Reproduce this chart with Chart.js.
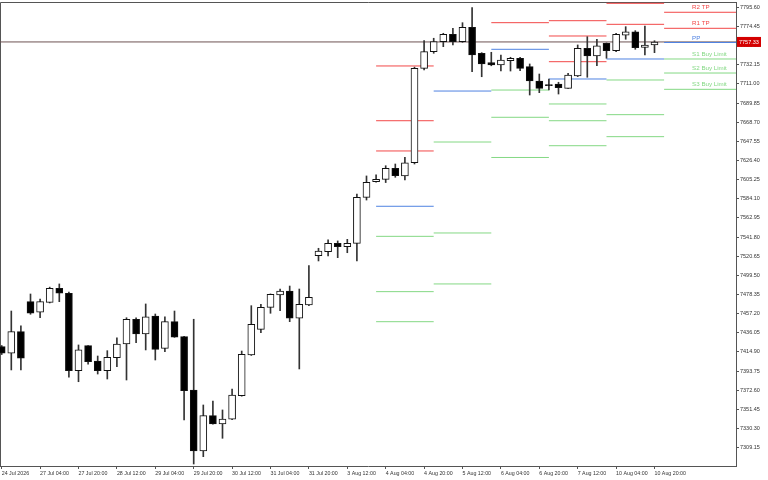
<!DOCTYPE html>
<html><head><meta charset="utf-8">
<script src="https://cdn.jsdelivr.net/npm/chart.js@4.4.1/dist/chart.umd.min.js"></script>
<style>html,body{margin:0;padding:0;background:#fff}canvas{display:block}</style>
</head><body>
<canvas id="c" width="768" height="480"></canvas>
<script>
// ---- candle data (H4 bars, index 0 = 24 Jul 2026 ...) ----
const opens  = [7420.7,7413.4,7437.3,7470.4,7458.7,7469.7,7485.2,7479.7,7394.2,7421.8,7404.9,7394.2,7408.6,7423.7,7451.0,7434.7,7454.6,7418.9,7448.3,7431.8,7372.9,7305.5,7344.5,7335.3,7340.5,7366.6,7411.5,7439.9,7464.2,7477.8,7482.2,7452.1,7466.8,7521.2,7525.6,7534.9,7531.2,7534.9,7585.7,7603.0,7605.6,7617.8,7609.2,7623.9,7728.2,7746.6,7757.6,7765.8,7757.6,7773.5,7744.8,7734.4,7731.9,7736.6,7739.3,7730.0,7714.2,7709.8,7710.9,7706.1,7719.7,7750.3,7741.8,7755.8,7747.7,7764.7,7768.6,7751.4,7754.0];
const highs  = [7422.0,7460.1,7443.6,7478.9,7473.4,7486.5,7490.0,7481.0,7422.6,7422.0,7410.4,7416.3,7430.6,7452.7,7452.7,7467.9,7456.8,7453.8,7460.1,7432.0,7451.0,7356.3,7360.7,7350.8,7374.0,7415.9,7466.0,7467.5,7479.0,7484.4,7487.7,7484.4,7510.2,7529.4,7538.6,7537.5,7539.3,7589.4,7609.3,7610.4,7620.6,7622.5,7629.9,7729.5,7758.7,7761.4,7766.9,7772.4,7778.6,7795.2,7745.5,7745.9,7742.9,7740.4,7740.4,7733.0,7721.9,7716.4,7712.8,7722.7,7754.0,7763.1,7760.3,7756.2,7766.9,7774.2,7769.8,7774.9,7758.7];
const lows   = [7412.0,7395.0,7395.0,7456.5,7452.7,7469.0,7470.4,7386.9,7382.0,7401.3,7390.5,7385.0,7398.6,7383.9,7425.1,7417.1,7406.0,7415.2,7431.0,7339.7,7291.1,7299.2,7335.0,7319.5,7340.0,7366.0,7411.0,7436.2,7457.6,7460.5,7448.3,7396.1,7466.0,7515.4,7520.9,7519.0,7524.5,7515.4,7582.7,7602.3,7602.0,7607.8,7604.9,7622.5,7726.3,7744.8,7752.1,7754.0,7756.9,7724.5,7718.9,7731.0,7725.2,7725.2,7725.6,7698.7,7701.3,7704.2,7699.8,7706.0,7719.0,7718.3,7731.1,7739.3,7746.6,7760.3,7749.2,7742.9,7745.5];
const closes = [7413.4,7437.3,7407.9,7457.6,7470.4,7485.2,7479.7,7394.2,7417.1,7404.1,7394.2,7409.0,7423.7,7451.0,7434.7,7453.8,7417.8,7448.3,7431.1,7372.1,7305.5,7344.5,7335.3,7340.8,7367.3,7412.3,7445.4,7464.2,7478.6,7482.2,7452.1,7467.5,7475.3,7526.4,7534.9,7531.2,7534.9,7585.7,7602.3,7605.6,7617.8,7609.6,7623.9,7728.2,7746.6,7757.6,7765.8,7757.6,7773.5,7742.9,7733.0,7731.9,7737.4,7739.3,7728.2,7714.2,7706.1,7709.0,7706.8,7720.8,7750.3,7741.8,7752.9,7747.7,7765.8,7768.6,7751.0,7754.0,7757.3];
const lastPrice = 7757.33;

// ---- daily pivot segments (bar index where each day starts / ends) ----
const segStart = [39, 45, 51, 57, 63, 69];
const segEnd   = [45, 51, 57, 63, 69, 76.49];
const r3 = [7730.8, null,   null,   7780.8, null,   null];
const r2 = [7670.3, null,   null,   7763.9, 7800.0, 7790.1];
const r1 = [7636.9, null,   7778.6, 7735.5, 7776.8, 7772.4];
const pp = [7575.8, 7703.1, 7749.2, 7716.4, 7738.5, 7756.7];
const s1 = [7542.6, 7646.8, 7704.2, 7688.8, 7715.3, 7738.5];
const s2 = [7481.5, 7546.3, 7674.1, 7670.3, 7677.0, 7723.0];
const s3 = [7448.3, 7490.0, 7629.7, 7642.7, 7652.7, 7705.0];
const levelNames = ['R2 TP', 'R1 TP', 'PP', 'S1 Buy Limit', 'S2 Buy Limit', 'S3 Buy Limit'];

// ---- axis ticks ----
const xTickIdx = [0,4,8,12,16,20,24,28,32,36,40,44,48,52,56,60,64,68];
const xLabels = ['24 Jul 2026','27 Jul 04:00','27 Jul 20:00','28 Jul 12:00','29 Jul 04:00','29 Jul 20:00','30 Jul 12:00','31 Jul 04:00','31 Jul 20:00','3 Aug 12:00','4 Aug 04:00','4 Aug 20:00','5 Aug 12:00','6 Aug 04:00','6 Aug 20:00','7 Aug 12:00','10 Aug 04:00','10 Aug 20:00'];
const yTicks = [7795.60,7774.45,7753.30,7732.15,7711.00,7689.85,7668.70,7647.55,7626.40,7605.25,7584.10,7562.95,7541.80,7520.65,7499.50,7478.35,7457.20,7436.05,7414.90,7393.75,7372.60,7351.45,7330.30,7309.15];

const X_MIN = -0.177, X_MAX = 76.49, Y_MIN = 7288.9, Y_MAX = 7801.45;
const RED = '#f24848', BLUE = '#4f82e2', GREEN = '#84d884', FRAME = '#555';

function segData(levels) {
  const pts = [];
  levels.forEach((v, k) => {
    if (v !== null) { pts.push({x: segStart[k], y: v}, {x: segEnd[k], y: v}); }
    pts.push({x: segEnd[k], y: null});
  });
  return pts;
}
function lineDs(levels, color) {
  return {type: 'line', data: segData(levels), borderColor: color, borderWidth: 1,
          pointRadius: 0, spanGaps: false, order: 3, tension: 0};
}

const bodyData = opens.map((o, i) => ({x: i, y: [o, closes[i]]}));
const wickData = lows.map((l, i) => ({x: i, y: [l, highs[i]]}));
const bodyFill = opens.map((o, i) => closes[i] < o ? '#000' : '#fff');

const extras = {
  id: 'extras',
  beforeDatasetsDraw(chart) {
    const {ctx, chartArea: a} = chart;
    ctx.save();
    ctx.strokeStyle = FRAME; ctx.lineWidth = 1;
    ctx.beginPath();
    ctx.moveTo(0.5, a.bottom); ctx.lineTo(0.5, a.top + 0.5); ctx.lineTo(a.right, a.top + 0.5);
    ctx.stroke();
    ctx.restore();
  },
  afterDraw(chart) {
    const {ctx, chartArea: a, scales: {x, y}} = chart;
    ctx.save();
    const lastLv = [r2[5], r1[5], pp[5], s1[5], s2[5], s3[5]];
    const cols = [RED, RED, BLUE, GREEN, GREEN, GREEN];
    const lx = x.getPixelForValue(segStart[5]) + 28;
    ctx.font = '6.2px "Liberation Sans", Arial, sans-serif';
    ctx.textBaseline = 'bottom'; ctx.textAlign = 'left';
    lastLv.forEach((v, k) => {
      ctx.fillStyle = cols[k];
      ctx.fillText(levelNames[k], lx, y.getPixelForValue(v) - 1.5);
    });
    const py = y.getPixelForValue(lastPrice);
    ctx.fillStyle = '#d40000';
    ctx.fillRect(a.right + 1, py - 5, 24, 10);
    ctx.fillStyle = '#fff';
    ctx.font = '5.5px "Liberation Sans", Arial, sans-serif';
    ctx.textBaseline = 'middle';
    ctx.fillText(lastPrice.toFixed(2), a.right + 3, py + 0.5);
    ctx.restore();
  }
};

new Chart(document.getElementById('c'), {
  type: 'bar',
  data: {
    datasets: [
      {type: 'line', data: [{x: X_MIN, y: lastPrice}, {x: X_MAX, y: lastPrice}], borderColor: '#6e5252',
       borderWidth: 1, pointRadius: 0, order: 4},
      lineDs(r3, RED), lineDs(r2, RED), lineDs(r1, RED), lineDs(pp, BLUE),
      lineDs(s1, GREEN), lineDs(s2, GREEN), lineDs(s3, GREEN),
      {data: wickData, backgroundColor: '#333', borderWidth: 0, barThickness: 1, grouped: false, order: 1},
      {data: bodyData, backgroundColor: bodyFill, borderColor: '#111', borderWidth: 1, borderSkipped: false,
       barThickness: 7, minBarLength: 1, grouped: false, order: 0}
    ]
  },
  options: {
    responsive: false, animation: false, devicePixelRatio: 1, events: [],
    layout: {padding: {top: 2, left: 0, right: 0, bottom: 0}},
    plugins: {legend: {display: false}, tooltip: {enabled: false}},
    scales: {
      x: {
        type: 'linear', min: X_MIN, max: X_MAX, offset: false,
        grid: {offset: false, drawOnChartArea: false, drawTicks: true, tickLength: 3, color: FRAME},
        border: {display: true, color: FRAME},
        afterBuildTicks: s => { s.ticks = xTickIdx.map(v => ({value: v})); },
        afterFit: s => { s.height = 14; s.paddingLeft = 0; s.paddingRight = 0; },
        ticks: {autoSkip: false, maxRotation: 0, align: 'start', padding: 1, color: '#333',
                font: {family: '"Liberation Sans", Arial, sans-serif', size: 5.3},
                callback: (v, i) => xLabels[i]}
      },
      y: {
        type: 'linear', position: 'right', min: Y_MIN, max: Y_MAX, beginAtZero: false,
        grid: {drawOnChartArea: false, drawTicks: true, tickLength: 3, color: FRAME},
        border: {display: true, color: FRAME},
        afterBuildTicks: s => { s.ticks = yTicks.map(v => ({value: v})); },
        afterFit: s => { s.width = 32; s.paddingTop = 0; s.paddingBottom = 0; },
        ticks: {autoSkip: false, padding: 1, color: '#333',
                font: {family: '"Liberation Sans", Arial, sans-serif', size: 5.5},
                callback: v => v.toFixed(2)}
      }
    }
  },
  plugins: [extras]
});
</script>
</body></html>
